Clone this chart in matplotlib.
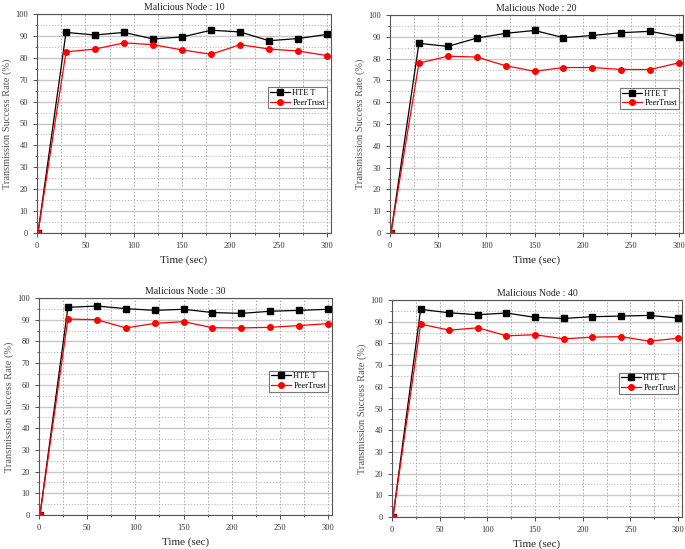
import matplotlib
matplotlib.use("Agg")
import matplotlib.pyplot as plt
from matplotlib.ticker import MultipleLocator

plt.rcParams['font.family'] = ['Liberation Serif', 'DejaVu Serif']

time = [1, 30, 60, 90, 120, 150, 180, 210, 240, 270, 300]
titles = ["Malicious Node : 10", "Malicious Node : 20", "Malicious Node : 30", "Malicious Node : 40"]

htet_10 = [0, 91.6, 90.4, 91.6, 88.6, 89.5, 92.6, 91.8, 87.8, 88.8, 90.7]
peer_10 = [0, 82.7, 84.0, 86.8, 86.0, 83.6, 81.6, 86.0, 84.0, 83.1, 81.0]
htet_20 = [0, 87.0, 85.6, 89.4, 91.6, 92.9, 89.6, 90.6, 91.9, 92.5, 90.0]
peer_20 = [0, 77.9, 81.1, 80.7, 76.7, 74.2, 75.9, 75.9, 75.0, 75.0, 78.1]
htet_30 = [0, 95.7, 96.3, 95.1, 94.3, 94.8, 93.3, 92.9, 93.9, 94.3, 94.8]
peer_30 = [0, 90.3, 90.0, 86.2, 88.3, 89.1, 86.3, 86.2, 86.5, 87.3, 88.2]
htet_40 = [0, 95.7, 94.1, 93.2, 94.0, 92.0, 91.5, 92.3, 92.6, 92.9, 91.7]
peer_40 = [0, 88.9, 86.1, 87.2, 83.5, 84.0, 82.1, 82.9, 83.1, 81.0, 82.4]

htet = [htet_10, htet_20, htet_30, htet_40]
peer = [peer_10, peer_20, peer_30, peer_40]

positions = [
    [37/685, (549-233)/549, 294/685, 219/549],
    [390/685, (549-233)/549, 293/685, 218/549],
    [39/685, (549-515)/549, 293/685, 217/549],
    [392/685, (549-517)/549, 290/685, 217/549],
]

fig = plt.figure(figsize=(6.85, 5.49), dpi=100)
for i in range(4):
    ax = fig.add_axes(positions[i])
    ax.set_xlim(0, 304)
    ax.set_ylim(0, 100)
    ax.xaxis.set_major_locator(MultipleLocator(50))
    ax.xaxis.set_minor_locator(MultipleLocator(25))
    ax.yaxis.set_major_locator(MultipleLocator(10))
    ax.yaxis.set_minor_locator(MultipleLocator(5))
    ax.grid(True, axis='y', which='major', color='#c8c8c8', lw=1.0, ls='-')
    ax.grid(True, axis='y', which='minor', color='#b0b0b0', lw=0.6, ls=(0, (1.5, 2)))
    ax.grid(True, axis='x', which='both', color='#a0a0a0', lw=0.6, ls=(0, (2, 2)))
    ax.set_axisbelow(True)
    ax.plot(time, htet[i], color='black', lw=0.9, marker='s', ms=4, label='HTE T')
    ax.plot(time, peer[i], color='red', lw=0.9, marker='o', ms=4, label='PeerTrust')
    ax.tick_params(axis='both', which='major', labelsize=6, length=3, width=0.6, direction='out', colors='#333333')
    ax.tick_params(axis='both', which='minor', length=1.5, width=0.5, direction='out', colors='#333333')
    for s in ax.spines.values():
        s.set_color('#555555')
        s.set_linewidth(0.8)
    ax.set_title(titles[i], fontsize=7, pad=3, color='#222222')
    ax.set_xlabel('Time (sec)', fontsize=8, color='#222222', labelpad=4)
    ax.set_ylabel('Transmission Success Rate (%)', fontsize=7.5, color='#555555', labelpad=2)
    leg = ax.legend(loc='upper right', bbox_to_anchor=(0.985, 0.665), fontsize=6, frameon=True,
                    fancybox=False, edgecolor='#777777', framealpha=1, handlelength=2.4,
                    borderpad=0.2, labelspacing=0.2, handletextpad=0.3, borderaxespad=0)
    leg.get_frame().set_linewidth(0.8)

fig.savefig('out.png', dpi=100)
